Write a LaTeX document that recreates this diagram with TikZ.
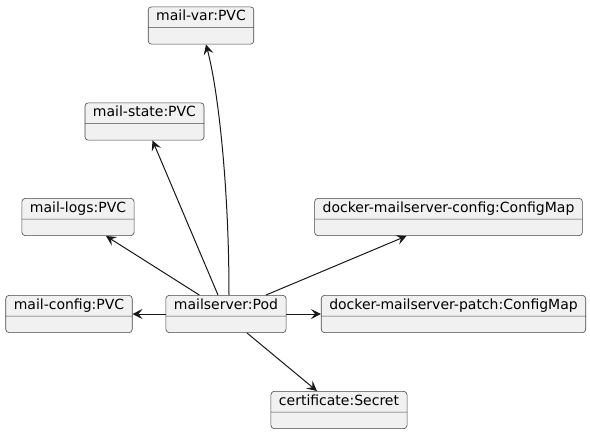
\documentclass[tikz,border=0pt]{standalone}
\usepackage{fontspec}
\setmainfont{DejaVu Sans}
\usetikzlibrary{shapes.multipart,arrows.meta}
\definecolor{umlline}{HTML}{181818}
\definecolor{umlfill}{HTML}{F1F1F1}
\newcommand{\objname}[1]{\rule[-2.6pt]{0pt}{10.6pt}#1\nodepart{two}\rule{0pt}{7.5pt}}
\begin{document}
\begin{tikzpicture}[x=0.75pt,y=-0.75pt,
	obj/.style={rectangle split, rectangle split parts=2, draw=umlline!80, fill=umlfill,
		rounded corners=2.5pt, line width=0.45pt, inner xsep=6pt, inner ysep=2.25pt,
		font=\fontsize{10.5}{12}\selectfont},
	dep/.style={draw=umlline, line width=0.75pt, -{Stealth[length=7.5pt,width=7.5pt,inset=3pt]}}]
	\useasboundingbox (0,0) rectangle (590,433);
	\node (var) at (201, 25.5)	[obj]	{\objname{mail-var:PVC}};
	\node (state) at (144.5, 121.5)	[obj]	{\objname{mail-state:PVC}};
	\node (logs) at (78, 217)	[obj]	{\objname{mail-logs:PVC}};
	\node (config) at (69, 314)	[obj]	{\objname{mail-config:PVC}};
	\node (pod) at (226, 314)	[obj]	{\objname{mailserver:Pod}};
	\node (dmconfig) at (448.5, 217)	[obj]	{\objname{docker-mailserver-config:ConfigMap}};
	\node (dmpatch) at (453.5, 314)	[obj]	{\objname{docker-mailserver-patch:ConfigMap}};
	\node (cert) at (339, 410)	[obj]	{\objname{certificate:Secret}};
	\draw[dep] ([xshift=2.25pt]pod.north) .. controls +(0,-110) and +(12,45) .. ([xshift=3.75pt]var.south);
	\draw[dep] ([xshift=-6pt]pod.north) -- ([xshift=6pt]state.south);
	\draw[dep] ([xshift=-20pt]pod.north) -- ([xshift=21pt]logs.south);
	\draw[dep] ([xshift=30pt]pod.north) -- ([xshift=-31.5pt]dmconfig.south);
	\draw[dep] (pod.west) -- (config.east);
	\draw[dep] (pod.east) -- (dmpatch.west);
	\draw[dep] ([xshift=15.75pt]pod.south) -- ([xshift=-16.5pt]cert.north);
\end{tikzpicture}
\end{document}
